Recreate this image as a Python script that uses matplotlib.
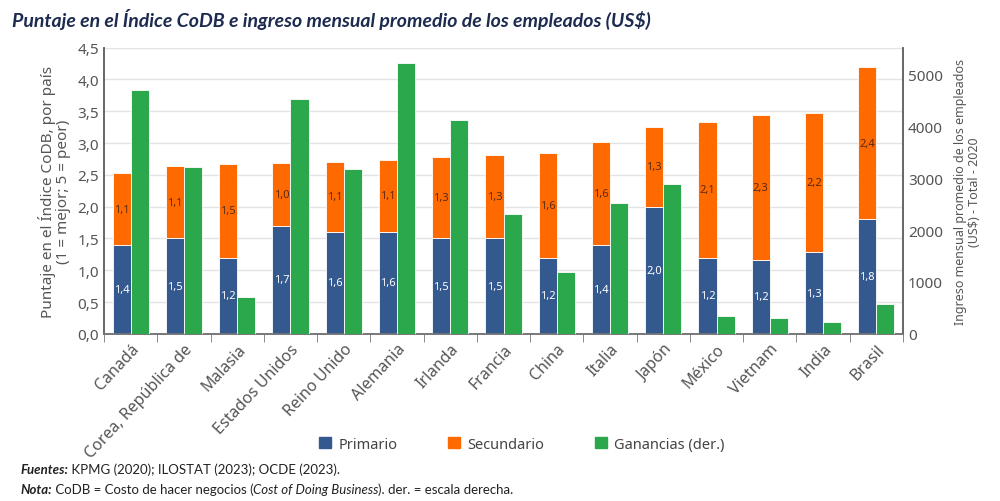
import numpy as np
import matplotlib
matplotlib.use("Agg")
import matplotlib.pyplot as plt
from matplotlib.patches import Patch

plt.rcParams['font.family'] = ['Noto Sans', 'DejaVu Sans']

paises = ["Canadá", "Corea, República de", "Malasia", "Estados Unidos", "Reino Unido",
          "Alemania", "Irlanda", "Francia", "China", "Italia", "Japón", "México",
          "Vietnam", "India", "Brasil"]
primario = [1.39, 1.5, 1.2, 1.7, 1.6, 1.6, 1.5, 1.5, 1.2, 1.4, 2.0, 1.2, 1.16, 1.28, 1.8]
secundario = [1.14, 1.14, 1.47, 0.99, 1.11, 1.14, 1.28, 1.32, 1.64, 1.61, 1.26, 2.13, 2.28, 2.2, 2.4]
ganancias = [4705, 3214, 707, 4531, 3169, 5225, 4120, 2308, 1183, 2526, 2892, 341, 296, 231, 573]

azul = '#34598f'
naranja = '#ff6a00'
verde = '#2aa84b'
gris = '#555555'

fig = plt.figure(figsize=(10, 5.02), dpi=100)
ax = fig.add_axes([0.104, 0.333, 0.799, 0.57])
ax2 = ax.twinx()

x = np.arange(len(paises))
w = 0.34
ax.set_axisbelow(True)
ax.grid(axis='y', color='#e3e3e3', linewidth=1)
ax.bar(x - w / 2, primario, w, color=azul, edgecolor='white', linewidth=0.6, zorder=3)
ax.bar(x - w / 2, secundario, w, bottom=primario, color=naranja, edgecolor='white', linewidth=0.6, zorder=3)
ax2.bar(x + w / 2, ganancias, w, color=verde, edgecolor='white', linewidth=0.6, zorder=3)

for i in range(len(paises)):
    ax.text(x[i] - w / 2, primario[i] / 2, f"{primario[i]:.1f}".replace('.', ','),
            ha='center', va='center', color='white', fontsize=8, zorder=5)
    ax.text(x[i] - w / 2, primario[i] + secundario[i] / 2, f"{secundario[i]:.1f}".replace('.', ','),
            ha='center', va='center', color='#5a2a10', fontsize=8, zorder=5)

ax.set_xlim(-0.5, len(paises) - 0.5)
ax.set_ylim(0, 4.5)
ax2.set_ylim(0, 5515)
ax.set_yticks(np.arange(0, 4.51, 0.5))
ax.set_yticklabels([f"{v:.1f}".replace('.', ',') for v in np.arange(0, 4.51, 0.5)])
ax2.set_yticks([0, 1000, 2000, 3000, 4000, 5000])

ax.set_xticks(x)
ax.set_xticklabels(paises, rotation=47, ha='right', rotation_mode='anchor',
                   color=gris, fontsize=11.5)
ax.tick_params(axis='x', length=0, pad=5)
ax.set_xticks(np.arange(-0.5, len(paises), 1), minor=True)
ax.tick_params(axis='x', which='minor', length=6, color='#777777')
ax.tick_params(axis='y', length=0, labelsize=11, colors=gris)
ax2.tick_params(axis='y', length=0, labelsize=11, colors=gris)

for a in (ax, ax2):
    a.spines['top'].set_visible(False)
    a.spines['left'].set_color('#666666')
    a.spines['right'].set_color('#666666')
    a.spines['bottom'].set_color('#777777')
    a.spines['left'].set_linewidth(1.2)
    a.spines['right'].set_linewidth(1.2)
    a.spines['bottom'].set_linewidth(1.2)

ax.set_ylabel("Puntaje en el Índice CoDB, por país\n(1 = mejor; 5 = peor)",
              color=gris, fontsize=11, linespacing=1.0, labelpad=5)
ax2.set_ylabel("Ingreso mensual promedio de los empleados\n(US$) - Total - 2020",
               color=gris, fontsize=9, linespacing=1.1, labelpad=8)

handles = [Patch(color=azul), Patch(color=naranja), Patch(color=verde)]
fig.legend(handles, ["Primario", "Secundario", "Ganancias (der.)"], loc='center',
           bbox_to_anchor=(0.522, 0.113), ncol=3, frameon=False, fontsize=10.5,
           handlelength=0.8, handleheight=0.8, handletextpad=0.5, columnspacing=3.5,
           labelcolor='#444444')

fig.text(0.012, 0.962, "Puntaje en el Índice CoDB e ingreso mensual promedio de los empleados (US$)",
         fontsize=14, fontweight='bold', fontstyle='italic', color='#1d2b50', va='center',
         family='Lato')

t1 = fig.text(0.02, 0.056, "Fuentes:", fontsize=9.5, fontweight='bold', fontstyle='italic',
              color='#222222', va='baseline', family='Lato')
ax.annotate(" KPMG (2020); ILOSTAT (2023); OCDE (2023).", xy=(1, 0), xycoords=t1,
            va='bottom', fontsize=9.5, color='#222222', annotation_clip=False, family='Lato')
t2 = fig.text(0.02, 0.016, "Nota:", fontsize=9.5, fontweight='bold', fontstyle='italic',
              color='#222222', va='baseline', family='Lato')
t3 = ax.annotate(" CoDB = Costo de hacer negocios (", xy=(1, 0), xycoords=t2,
                 va='bottom', fontsize=9.5, color='#222222', annotation_clip=False, family='Lato')
t4 = ax.annotate("Cost of Doing Business", xy=(1, 0), xycoords=t3, va='bottom',
                 fontsize=9.5, fontstyle='italic', color='#222222', annotation_clip=False,
                 family='Lato')
ax.annotate("). der. = escala derecha.", xy=(1, 0), xycoords=t4, va='bottom',
            fontsize=9.5, color='#222222', annotation_clip=False, family='Lato')

fig.savefig("out.png", dpi=100)
